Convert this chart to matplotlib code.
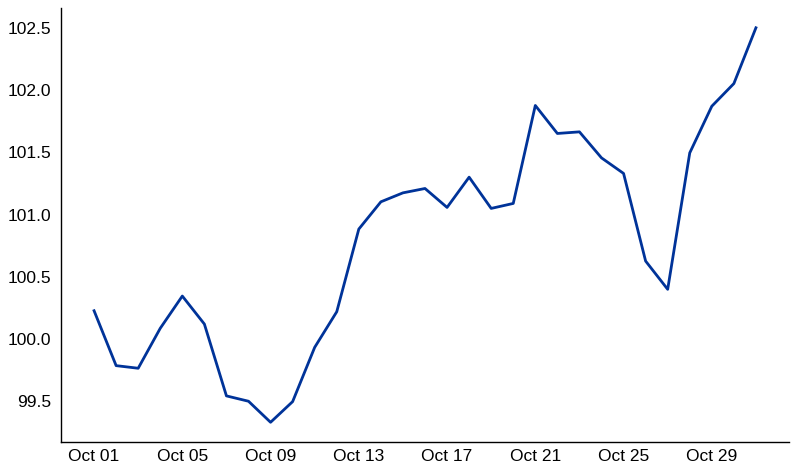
import pandas as pd
import matplotlib
matplotlib.use("Agg")
import matplotlib.pyplot as plt
import matplotlib.dates as mdates

dates = pd.date_range("2023-10-01", "2023-10-31", freq="D")
values = [
    100.227, 99.786, 99.765, 100.086, 100.345, 100.12, 99.543, 99.50,
    99.331, 99.497, 99.933, 100.219, 100.883, 101.102, 101.174, 101.209,
    101.057, 101.30, 101.049, 101.089, 101.876, 101.651, 101.664, 101.455,
    101.33, 100.626, 100.399, 101.495, 101.87, 102.052, 102.50,
]
yticks = [99.5, 100.0, 100.5, 101.0, 101.5, 102.0, 102.5]

plt.rcParams["font.family"] = ["Liberation Sans", "DejaVu Sans"]

fig = plt.figure(figsize=(7.97, 4.74), dpi=100)
ax = fig.add_axes([0.0765, 0.0675, 0.9135, 0.9155])
ax.plot(dates, values, color="#003399", linewidth=2.0)

ax.set_yticks(yticks)
ax.yaxis.set_major_formatter(plt.FormatStrFormatter("%.1f"))
ax.set_xticks(dates[::4])
ax.xaxis.set_major_formatter(mdates.DateFormatter("%b %d"))
ax.tick_params(axis="both", length=0, labelsize=12.5, colors="black")
ax.tick_params(axis="y", pad=7)
ax.tick_params(axis="x", pad=5)

for side in ["top", "right"]:
    ax.spines[side].set_visible(False)
for side in ["left", "bottom"]:
    ax.spines[side].set_linewidth(1.0)

fig.savefig("out.png", dpi=100)
